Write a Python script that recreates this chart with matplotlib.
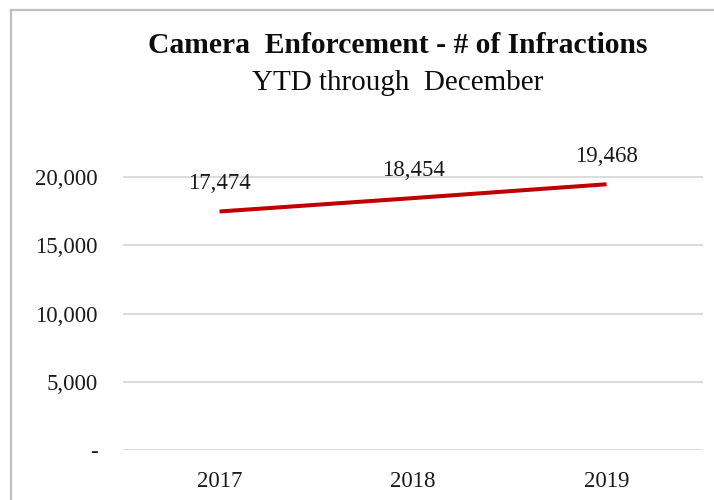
import matplotlib.pyplot as plt
from matplotlib.lines import Line2D
from matplotlib.ticker import FuncFormatter

years = ['2017', '2018', '2019']
infractions = [17474, 18454, 19468]
y_ticks = [0, 5000, 10000, 15000, 20000]

plt.rcParams['font.family'] = ['Liberation Serif', 'DejaVu Serif']

fig = plt.figure(figsize=(7.14, 5.0), dpi=100)
ax = fig.add_axes([0.172, 0.1, 0.813, 0.6006])

x = range(len(years))
ax.plot(x, infractions, color='#C00000', linewidth=2.9, solid_capstyle='butt', zorder=3)
for xi, val in zip(x, infractions):
    ax.annotate(f'{val:,}', (xi, val), xytext=(0, 20), textcoords='offset points',
                ha='center', va='center', fontsize=16.5, color='#1a1a1a')

ax.set_xlim(-0.5, len(years) - 0.5)
ax.set_ylim(0, 22000)
ax.set_xticks(list(x))
ax.set_xticklabels(years)
ax.set_yticks(y_ticks)
ax.yaxis.set_major_formatter(FuncFormatter(lambda v, p: '-' if v == 0 else f'{int(v):,}'))
ax.tick_params(length=0, labelsize=16.5, labelcolor='#1a1a1a')
ax.tick_params(axis='y', pad=18)
ax.tick_params(axis='x', pad=15)
ax.grid(axis='y', color='#d9d9d9', linewidth=1.3)
ax.set_axisbelow(True)
for s in ax.spines.values():
    s.set_visible(False)

fig.text(0.557, 0.894, 'Camera  Enforcement - # of Infractions', ha='center', va='baseline',
         fontsize=21.3, fontweight='bold', color='#0d0d0d')
fig.text(0.557, 0.82, 'YTD through  December', ha='center', va='baseline',
         fontsize=21, color='#0d0d0d')

# frame around the chart area
fig.add_artist(Line2D([11 / 714, 1.0], [1 - 10 / 500, 1 - 10 / 500], color='#bfbfbf', linewidth=1.6))
fig.add_artist(Line2D([11 / 714, 11 / 714], [0.0, 1 - 10 / 500], color='#bfbfbf', linewidth=1.6))

fig.savefig('out.png', dpi=100)
